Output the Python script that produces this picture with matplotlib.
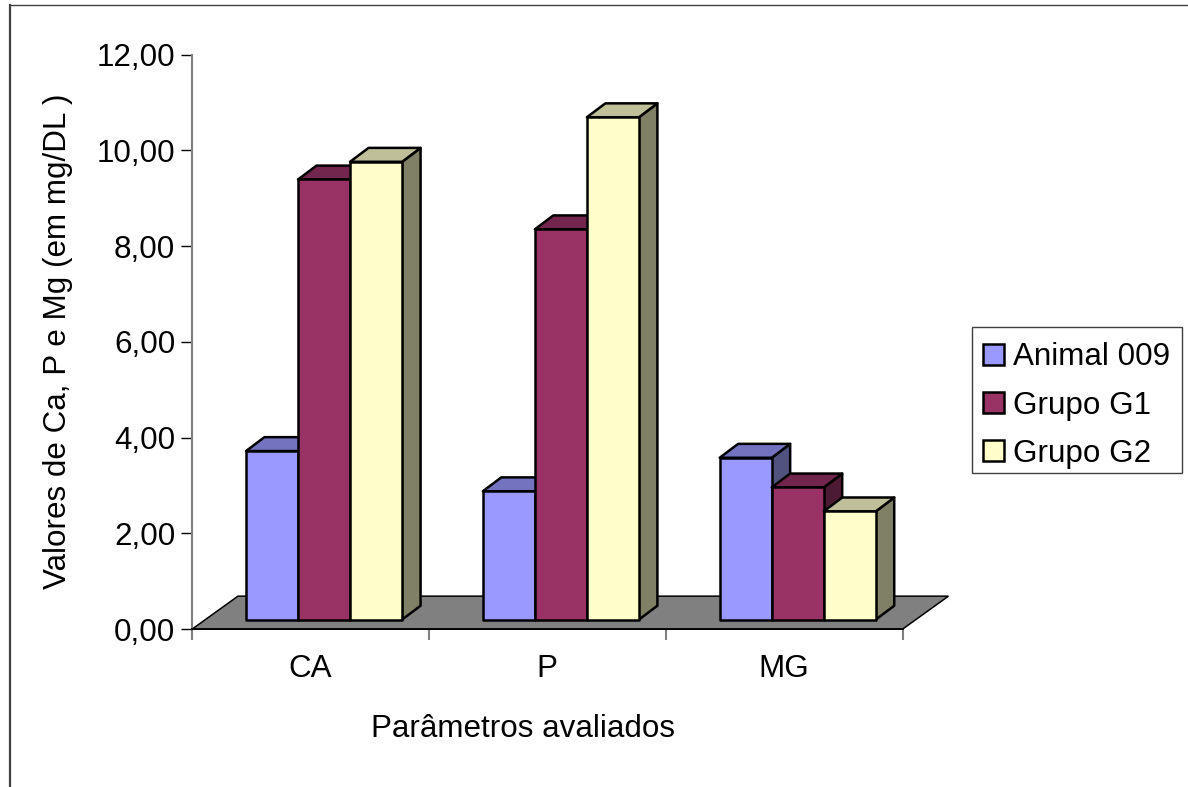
import matplotlib

matplotlib.use("Agg")
import matplotlib.pyplot as plt
from matplotlib.lines import Line2D
from matplotlib.patches import Patch, Polygon, Rectangle

plt.rcParams["font.family"] = ["Liberation Sans", "DejaVu Sans"]

CATEGORIES = ["CA", "P", "MG"]
SERIES = ["Animal 009", "Grupo G1", "Grupo G2"]
ANIMAL_009 = [3.52, 2.68, 3.38]
GRUPO_G1 = [9.19, 8.15, 2.76]
GRUPO_G2 = [9.56, 10.49, 2.26]
Y_TICKS = [0, 2, 4, 6, 8, 10, 12]

# front, top and side shades for each series
SHADES = [("#9999FF", "#7373BF", "#52527F"),
          ("#993366", "#73264D", "#4D1A33"),
          ("#FFFFCC", "#BFBF99", "#808066")]

W, H = 1188, 787
LEFT, RIGHT, BOTTOM, TOP = 192, 902.5, 629.2, 54.5
BAR_W = 0.2197
GROUP_GAP = 0.228
BAR_DX, BAR_DY = 0.078, 0.29
BASE = 0.2
FLOOR_DX, FLOOR_DY = 0.194, 0.69
EDGE = 1.8
FONT = 22.6


def draw_bar(ax, x0, value, shades, z):
    """Draw one pseudo-3D column: side, top, then front face."""
    front, top, side = shades
    x1 = x0 + BAR_W
    y0, y1 = BASE, BASE + value
    dx, dy = BAR_DX, BAR_DY
    faces = [
        ([(x1, y0), (x1 + dx, y0 + dy), (x1 + dx, y1 + dy), (x1, y1)], side),
        ([(x0, y1), (x0 + dx, y1 + dy), (x1 + dx, y1 + dy), (x1, y1)], top),
        ([(x0, y0), (x1, y0), (x1, y1), (x0, y1)], front),
    ]
    for pts, color in faces:
        ax.add_patch(Polygon(pts, closed=True, facecolor=color, edgecolor="black",
                             lw=EDGE, joinstyle="round", clip_on=False, zorder=z))


fig = plt.figure(figsize=(W / 100, H / 100), dpi=100)
ax = fig.add_axes([LEFT / W, 1 - BOTTOM / H, (RIGHT - LEFT) / W, (BOTTOM - TOP) / H])
ax.set_xlim(0, 3)
ax.set_ylim(0, 12)

for side in ("top", "right"):
    ax.spines[side].set_visible(False)
ax.spines["left"].set_color("#808080")
ax.spines["left"].set_linewidth(1.5)
ax.spines["bottom"].set_color("black")
ax.spines["bottom"].set_linewidth(1.3)
ax.spines["bottom"].set_zorder(3)

# floor plane under the columns
ax.add_patch(Polygon([(0, 0), (FLOOR_DX, FLOOR_DY), (3 + FLOOR_DX, FLOOR_DY), (3, 0)],
                     closed=True, facecolor="#808080", edgecolor="black", lw=1.1,
                     clip_on=False, zorder=2))

for i in range(len(CATEGORIES)):
    values = [ANIMAL_009[i], GRUPO_G1[i], GRUPO_G2[i]]
    for j, value in enumerate(values):
        draw_bar(ax, i + GROUP_GAP + j * BAR_W, value, SHADES[j], 5 + i * 3 + j)

ax.set_yticks(Y_TICKS)
ax.set_yticklabels([f"{v:.2f}".replace(".", ",") for v in Y_TICKS])
ax.tick_params(axis="y", length=8, width=1.0, color="black", pad=4, labelsize=FONT)
ax.set_xticks([0, 1, 2, 3])
ax.set_xticklabels([])
ax.tick_params(axis="x", which="major", length=8, width=1.5, color="#808080")
ax.set_xticks([0.5, 1.5, 2.5], minor=True)
ax.set_xticklabels(CATEGORIES, minor=True)
ax.tick_params(axis="x", which="minor", length=0, pad=18, labelsize=FONT)

fig.text(523 / W, 1 - 729 / H, "Parâmetros avaliados", fontsize=FONT, ha="center", va="center")
fig.text(58 / W, 1 - 341 / H, "Valores de Ca, P e Mg (em mg/DL )", fontsize=FONT,
         rotation=90, ha="center", va="center")

# legend frame is a separate box so the rows can sit slightly low inside it
fig.add_artist(Rectangle((972 / W, 1 - 473 / H), 210 / W, 146 / H, transform=fig.transFigure,
                         facecolor="white", edgecolor="#404040", lw=1.0))
handles = [Patch(facecolor=s[0], edgecolor="black", lw=1.8) for s in SHADES]
fig.legend(handles, SERIES, loc="upper left", bbox_to_anchor=(972 / W, 1 - 331 / H),
           fontsize=FONT, frameon=False,
           handlelength=0.66, handleheight=0.66, handletextpad=0.28,
           labelspacing=0.58, borderpad=0.36, borderaxespad=0)

# outer chart frame, only its top and left edges show
fig.add_artist(Line2D([10 / W, 10 / W], [0, 1 - 5 / H], color="#404040", lw=1.6))
fig.add_artist(Line2D([10 / W, 1], [1 - 5 / H, 1 - 5 / H], color="#404040", lw=1.0))

fig.savefig("out.png", dpi=100)
